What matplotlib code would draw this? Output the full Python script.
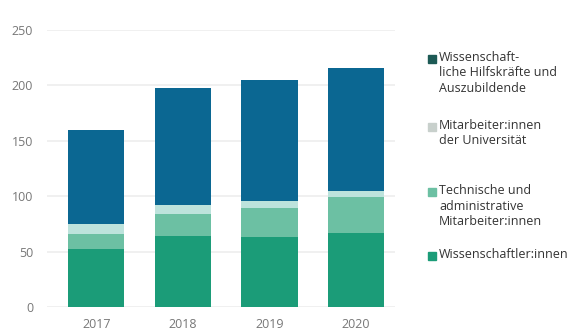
import matplotlib.pyplot as plt
import numpy as np

plt.rcParams['font.family'] = ['Open Sans', 'DejaVu Sans']

# Data
years = ['2017', '2018', '2019', '2020']
wiss = [52, 64, 63, 67]           # Wissenschaftler:innen
tech = [14, 20, 26, 32]           # Technische und administrative Mitarbeiter:innen
uni = [9, 8, 7, 6]                # Mitarbeiter:innen der Universität
hilfs = [85, 106, 109, 111]       # Wissenschaftliche Hilfskräfte und Auszubildende

series = [wiss, tech, uni, hilfs]
colors = ['#1b9c78', '#6cc0a3', '#bde3dc', '#0b6792']

legend_labels = ['Wissenschaft-\nliche Hilfskräfte und\nAuszubildende',
                 'Mitarbeiter:innen\nder Universität',
                 'Technische und\nadministrative\nMitarbeiter:innen',
                 'Wissenschaftler:innen']
legend_colors = ['#1d5a55', '#c8d0cc', '#6cc0a3', '#1b9c78']
legend_y = [60, 128, 193, 257]   # pixel rows of first line

W, H = 569, 335
fig = plt.figure(figsize=(W / 100, H / 100), dpi=100)
ax = fig.add_axes([47 / W, 1 - 307 / H, (395 - 47) / W, (307 - 30) / H])

x = np.arange(len(years))
bottom = np.zeros(len(years))
for vals, c in zip(series, colors):
    ax.bar(x, vals, width=0.65, bottom=bottom, color=c, zorder=3)
    bottom += np.array(vals)

ax.set_ylim(0, 250)
ax.set_xlim(-0.57, 3.45)
ax.set_yticks([0, 50, 100, 150, 200, 250])
ax.set_xticks(x)
ax.set_xticklabels(years)
ax.yaxis.grid(True, color='#eeeeee', linewidth=1.2, zorder=0)
for s in ax.spines.values():
    s.set_visible(False)
ax.tick_params(length=0, colors='#777777', labelsize=9)
ax.tick_params(axis='y', pad=10)
ax.tick_params(axis='x', pad=8)

for lab, c, yp in zip(legend_labels, legend_colors, legend_y):
    fig.patches.append(plt.Rectangle((428 / W, 1 - (yp + 3) / H), 8 / W, 8 / H,
                                     transform=fig.transFigure, color=c, figure=fig))
    fig.text(439 / W, 1 - (yp - 9) / H, lab, fontsize=9, color='#333333',
             va='top', ha='left', linespacing=1.25)

fig.savefig('out.png', dpi=100)
